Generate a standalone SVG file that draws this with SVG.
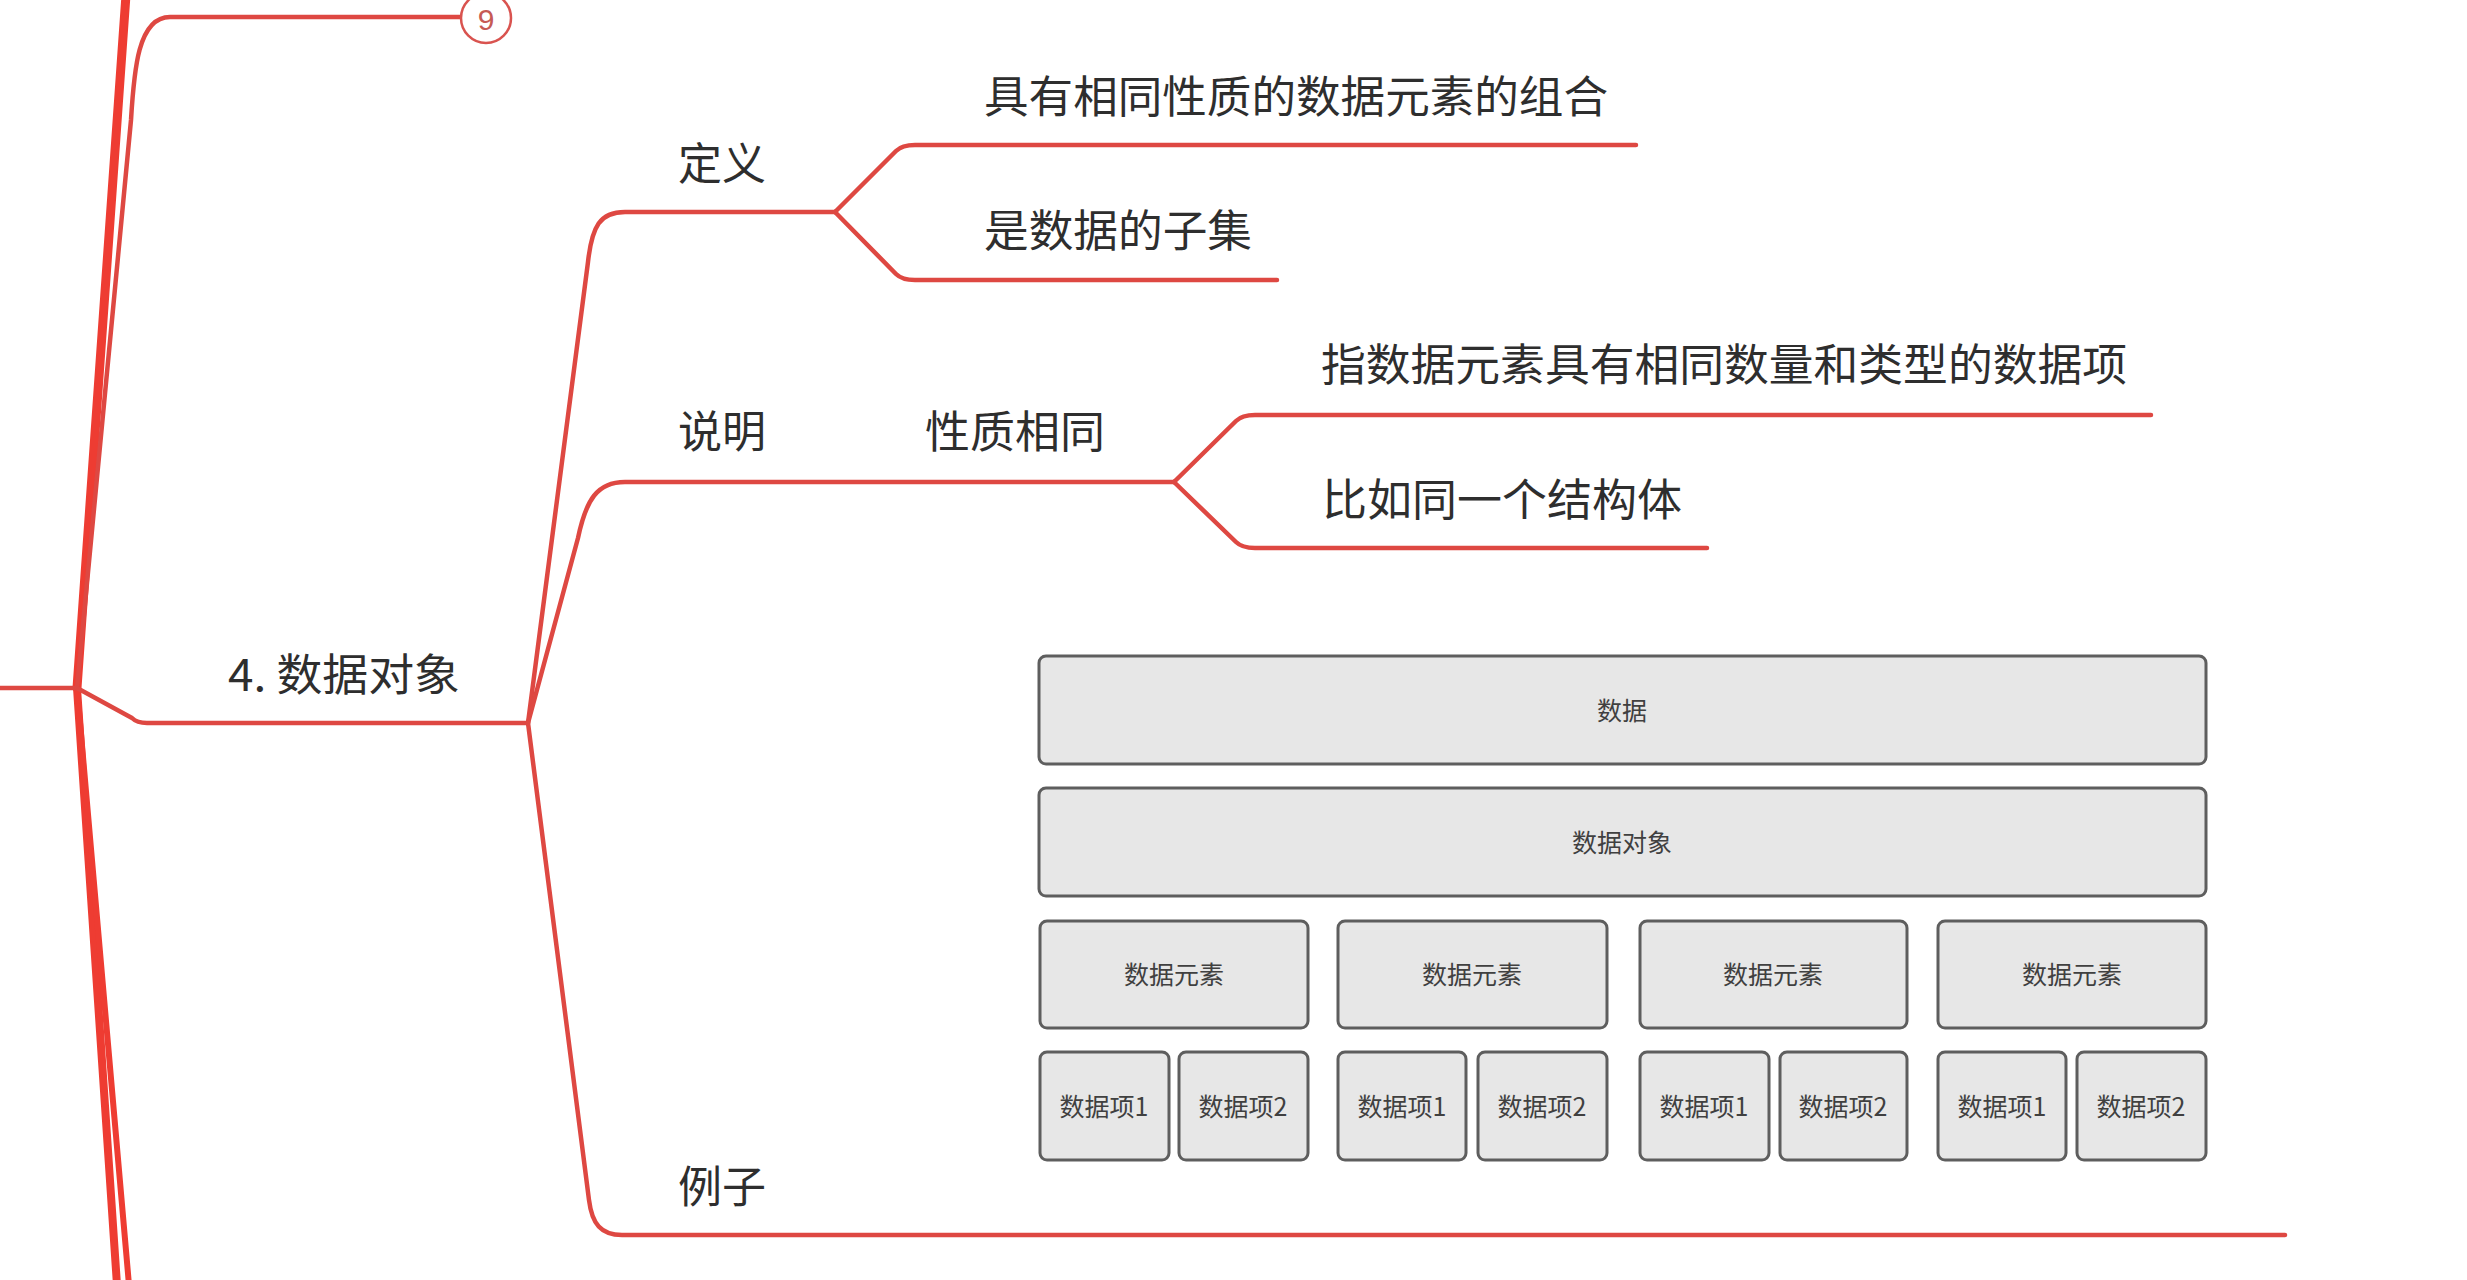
<svg xmlns="http://www.w3.org/2000/svg" width="2467" height="1280" viewBox="0 0 2467 1280">
<style>
.trunk{fill:none;stroke:#ee3c32;stroke-linecap:round;stroke-linejoin:round}
.br{fill:none;stroke:#de4842;stroke-width:4.5;stroke-linecap:round;stroke-linejoin:round}
.lbl{font-family:"Noto Sans CJK SC","Noto Sans",sans-serif;font-size:44px;fill:#2e2e2e;dominant-baseline:central}
.box{fill:#e7e7e7;stroke:#5e5e5e;stroke-width:3}
.bt{font-family:"Noto Sans CJK SC","Noto Sans",sans-serif;font-size:25px;fill:#404040;text-anchor:middle;dominant-baseline:central}
</style>
<rect width="2467" height="1280" fill="#ffffff"/>
<g id="connectors">
<path class="trunk" stroke-width="9" d="M77,688 L126,-5"/>
<path class="trunk" stroke-width="8" d="M77,688 L117,1285"/>
<path class="trunk" stroke-width="6" d="M77,688 L129,1285"/>
<path class="br" d="M0,688 L77,688"/>
<path class="br" d="M77,688 L131,120 C134,70 138,17 170,17 L462,17"/>
<path class="br" d="M77,688 L132,718 Q137,723 147,723 L528,723"/>
<path class="br" d="M528,723 L588,262 C592,226 600,212 625,212 L835,212"/>
<path class="br" d="M835,212 L896,151 Q902,145 915,145 L1636,145"/>
<path class="br" d="M835,212 L896,274 Q902,280 915,280 L1277,280"/>
<path class="br" d="M528,723 L578,538 C586,500 597,482 625,482 L1174,482"/>
<path class="br" d="M1174,482 L1236,421 Q1242,415 1255,415 L2151,415"/>
<path class="br" d="M1174,482 L1236,542 Q1242,548 1255,548 L1707,548"/>
<path class="br" d="M528,723 L589,1200 C592,1224 601,1235 622,1235 L2285,1235"/>
</g>
<g id="node-9">
<circle cx="486" cy="18" r="25" fill="#ffffff" stroke="#d9534f" stroke-width="2.5"/>
<text x="486" y="19" font-family="Liberation Sans, sans-serif" font-size="30" fill="#c65a55" text-anchor="middle" dominant-baseline="central">9</text>
</g>
<g id="node-shujuduixiang"><text class="lbl" x="228" y="672" textLength="232" lengthAdjust="spacingAndGlyphs">4. 数据对象</text></g>
<g id="node-dingyi"><text class="lbl" x="678" y="161">定义</text></g>
<g id="node-def1"><text class="lbl" x="984" y="94" textLength="624" lengthAdjust="spacingAndGlyphs">具有相同性质的数据元素的组合</text></g>
<g id="node-def2"><text class="lbl" x="984" y="228" textLength="268" lengthAdjust="spacingAndGlyphs">是数据的子集</text></g>
<g id="node-shuoming"><text class="lbl" x="678" y="429">说明</text></g>
<g id="node-xingzhi"><text class="lbl" x="925" y="429" textLength="180" lengthAdjust="spacingAndGlyphs">性质相同</text></g>
<g id="node-desc1"><text class="lbl" x="1321" y="362" textLength="806" lengthAdjust="spacingAndGlyphs">指数据元素具有相同数量和类型的数据项</text></g>
<g id="node-desc2"><text class="lbl" x="1322" y="497" textLength="360" lengthAdjust="spacingAndGlyphs">比如同一个结构体</text></g>
<g id="node-lizi"><text class="lbl" x="678" y="1184">例子</text></g>
<g id="node-example">
<rect class="box" x="1039" y="656" width="1167" height="108" rx="7"/>
<text class="bt" x="1622" y="709">数据</text>
<rect class="box" x="1039" y="788" width="1167" height="108" rx="7"/>
<text class="bt" x="1622" y="841">数据对象</text>
<rect class="box" x="1040" y="921" width="268" height="107" rx="7"/>
<text class="bt" x="1174" y="973">数据元素</text>
<rect class="box" x="1338" y="921" width="269" height="107" rx="7"/>
<text class="bt" x="1472" y="973">数据元素</text>
<rect class="box" x="1640" y="921" width="267" height="107" rx="7"/>
<text class="bt" x="1773" y="973">数据元素</text>
<rect class="box" x="1938" y="921" width="268" height="107" rx="7"/>
<text class="bt" x="2072" y="973">数据元素</text>
<rect class="box" x="1040" y="1052" width="129" height="108" rx="7"/>
<text class="bt" x="1104" y="1105">数据项1</text>
<rect class="box" x="1179" y="1052" width="129" height="108" rx="7"/>
<text class="bt" x="1243" y="1105">数据项2</text>
<rect class="box" x="1338" y="1052" width="128" height="108" rx="7"/>
<text class="bt" x="1402" y="1105">数据项1</text>
<rect class="box" x="1478" y="1052" width="129" height="108" rx="7"/>
<text class="bt" x="1542" y="1105">数据项2</text>
<rect class="box" x="1640" y="1052" width="129" height="108" rx="7"/>
<text class="bt" x="1704" y="1105">数据项1</text>
<rect class="box" x="1780" y="1052" width="127" height="108" rx="7"/>
<text class="bt" x="1843" y="1105">数据项2</text>
<rect class="box" x="1938" y="1052" width="128" height="108" rx="7"/>
<text class="bt" x="2002" y="1105">数据项1</text>
<rect class="box" x="2077" y="1052" width="129" height="108" rx="7"/>
<text class="bt" x="2141" y="1105">数据项2</text>
</g>
</svg>
